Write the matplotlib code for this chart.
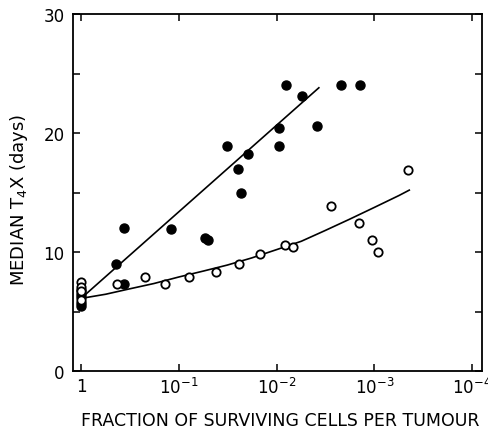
import matplotlib
matplotlib.use("Agg")
import matplotlib.pyplot as plt
from matplotlib.ticker import FixedLocator, NullFormatter

# ---- data ----
closed_x = [1, 1, 1, 1, 1, 0.44, 0.36, 0.36, 0.12, 0.054, 0.050, 0.032, 0.025,
            0.023, 0.0195, 0.0095, 0.0095, 0.0081, 0.0055, 0.0039, 0.0022, 0.0014]
closed_y = [6.8, 6.5, 6.2, 5.7, 5.5, 9.0, 12.05, 7.27, 11.9, 11.2, 11.04, 18.9, 17.0,
            15.0, 18.2, 20.4, 18.9, 24.0, 23.1, 20.6, 24.0, 24.0]

open_x = [1, 1, 1, 1, 0.43, 0.22, 0.14, 0.079, 0.042, 0.024, 0.0148, 0.0083,
          0.0068, 0.00275, 0.00145, 0.00107, 0.00091, 0.00045]
open_y = [7.5, 7.1, 6.7, 6.0, 7.27, 7.94, 7.27, 7.94, 8.36, 9.03, 9.84, 10.6,
          10.4, 13.9, 12.44, 10.98, 10.03, 16.9]

closed_line_x = [1, 0.0037]
closed_line_y = [6.1, 23.8]

open_curve_x = [1, 0.56, 0.32, 0.18, 0.1, 0.056, 0.032, 0.018, 0.01, 0.0056,
                0.0032, 0.0018, 0.001, 0.00056, 0.00044]
open_curve_y = [6.1, 6.45, 6.9, 7.35, 7.9, 8.4, 8.9, 9.5, 10.2, 10.9,
                11.8, 12.75, 13.75, 14.75, 15.2]

x_ticks = [1, 1e-1, 1e-2, 1e-3, 1e-4]
x_ticklabels = ["1", r"$10^{-1}$", r"$10^{-2}$", r"$10^{-3}$", r"$10^{-4}$"]
y_ticks = [0, 10, 20, 30]
y_minor = [5, 15, 25]

plt.rcParams['font.family'] = ['DejaVu Sans']
plt.rcParams['mathtext.fontset'] = 'dejavusans'

W, H = 488, 431
fig = plt.figure(figsize=(W/100, H/100), dpi=100)
ax = fig.add_axes([73/W, 1-372/H, 409/W, 357/H])

ax.set_xscale('log')
ax.set_xlim(10**0.082, 10**-4.10)
ax.set_ylim(0, 30)

ax.plot(closed_line_x, closed_line_y, color='black', lw=1.2, zorder=2)
ax.plot(open_curve_x, open_curve_y, color='black', lw=1.2, zorder=2)
ax.plot(closed_x, closed_y, 'o', color='black', ms=6.5, zorder=3)
ax.plot(open_x, open_y, 'o', mfc='white', mec='black', mew=1.3, ms=6, zorder=4)

ax.xaxis.set_major_locator(FixedLocator(x_ticks))
ax.xaxis.set_minor_locator(FixedLocator([]))
ax.set_xticklabels(x_ticklabels)
ax.yaxis.set_major_locator(FixedLocator(y_ticks))
ax.yaxis.set_minor_locator(FixedLocator(y_minor))
ax.yaxis.set_minor_formatter(NullFormatter())

ax.tick_params(axis='both', which='both', direction='in', top=True, right=True,
               width=1.1, labelsize=12)
ax.tick_params(axis='both', which='major', length=5)
ax.tick_params(axis='both', which='minor', length=5)
ax.tick_params(axis='y', which='major', pad=6)
ax.tick_params(axis='x', which='major', pad=4)
for s in ax.spines.values():
    s.set_linewidth(1.3)

fig.text(280/W, 1-421/H, "FRACTION OF SURVIVING CELLS PER TUMOUR", fontsize=12.5,
         ha='center', va='center')
fig.text(19/W, 1-200/H, r"MEDIAN T$_{4}$X (days)", fontsize=13,
         ha='center', va='center', rotation=90)

fig.savefig("out.png", dpi=100)
